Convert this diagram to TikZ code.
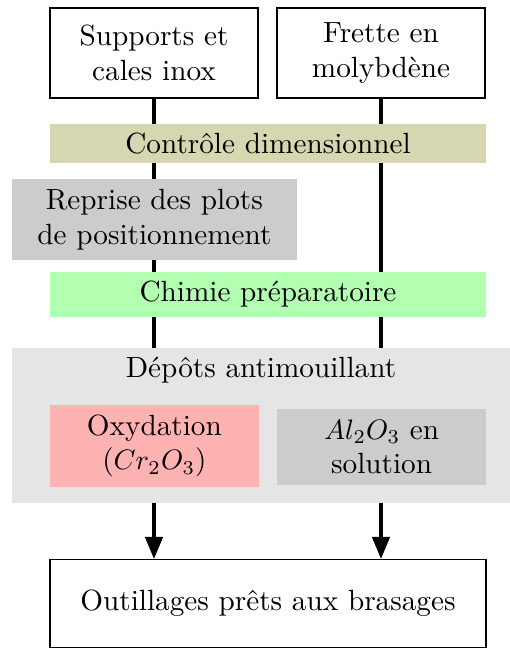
\documentclass[tikz,border=0pt]{standalone}
\usepackage{tikz}
\usetikzlibrary{positioning, arrows.meta, backgrounds}
\definecolor{CtrlOlive}{RGB}{214,214,176}
\begin{document}
\begin{tikzpicture}[
          font=\fontsize{10.4}{12.3}\selectfont,
          bx/.style={rectangle, minimum width=2.6cm, minimum height=1.125cm,
                     align=center, inner sep=0pt},
          band/.style={rectangle, minimum width=5.45cm, align=center, inner sep=0pt},
          flow/.style={line width=1.7pt, -{Triangle[length=8pt, width=6pt]}}
        ]
        \useasboundingbox (0,0) rectangle (6.375,-8.1);

        % Pieces
        \node[bx, draw] (sup) at (1.925, -0.6625) {Supports et\\cales inox};
        \node[bx, draw] (fre) at (4.7625,-0.6625) {Frette en\\molybdène};

        % Preparation steps
        \node[band, fill=CtrlOlive, minimum height=0.49cm]
              (ctrl) at (3.35, -1.794) {Contrôle dimensionnel};
        \node[bx, fill=gray!40, minimum width=3.56cm, minimum height=1.01cm]
              (rep) at (1.93, -2.744) {Reprise des plots\\de positionnement};
        \node[band, fill=green!30, minimum height=0.5625cm]
              (chim) at (3.35, -3.68) {Chimie préparatoire};

        % Deposits
        \node[rectangle, fill=gray!20, minimum width=6.225cm, minimum height=1.94cm,
              label={[anchor=north]north:Dépôts antimouillant}]
              (dep) at (3.2625, -5.319) {};
        \node[bx, fill=red!30, minimum width=2.61cm, minimum height=1.025cm]
              (oxy) at (1.93, -5.575) {Oxydation\\($Cr_2O_3$)};
        \node[bx, fill=gray!40, minimum width=2.61cm, minimum height=0.95cm]
              (al) at (4.77, -5.5875) {$Al_2O_3$ en\\solution};

        % Output
        \node[band, draw, minimum height=1.09cm]
              (out) at (3.35, -7.544) {Outillages prêts aux brasages};

        \begin{scope}[on background layer]
          \draw[flow] (sup) -- (sup |- out.north);
          \draw[flow] (fre) -- (fre |- out.north);
        \end{scope}
      \end{tikzpicture}
\end{document}
